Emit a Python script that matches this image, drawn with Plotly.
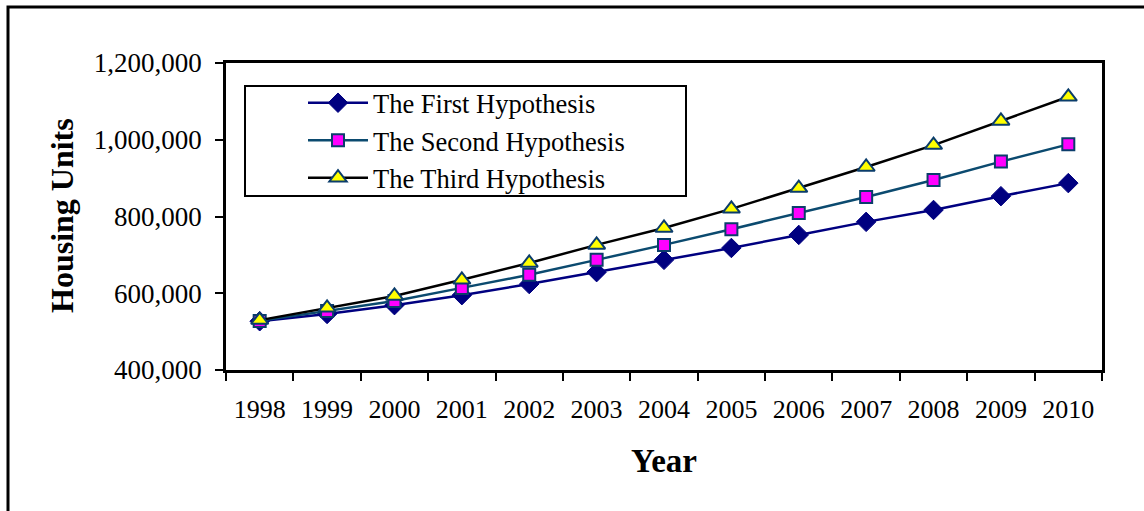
import plotly.graph_objects as go

years = ["1998", "1999", "2000", "2001", "2002", "2003", "2004",
         "2005", "2006", "2007", "2008", "2009", "2010"]
first_hyp = [527000, 546000, 569000, 595000, 624000, 655000, 687000,
             718000, 752000, 786000, 817000, 853000, 887000]
second_hyp = [528000, 554000, 580000, 614000, 648000, 687000, 726000,
              767000, 809000, 851000, 895000, 943000, 988000]
third_hyp = [530000, 562000, 593000, 635000, 679000, 726000, 770000,
             820000, 874000, 929000, 986000, 1049000, 1112000]
names = ["The First Hypothesis", "The Second Hypothesis", "The Third Hypothesis"]

W, H = 1144, 511
L, R, T, B = 226, 1102, 63, 370

fig = go.Figure()
fig.add_trace(go.Scatter(
    x=years, y=first_hyp, name=names[0], mode="lines+markers",
    line=dict(color="#000080", width=2.5),
    marker=dict(symbol="diamond", size=15, color="#000080",
                line=dict(color="#000080", width=1))))
fig.add_trace(go.Scatter(
    x=years, y=second_hyp, name=names[1], mode="lines+markers",
    line=dict(color="#0B4A6F", width=2.5),
    marker=dict(symbol="square", size=12, color="#FF00FF",
                line=dict(color="#0B3D6B", width=2))))
fig.add_trace(go.Scatter(
    x=years, y=third_hyp, name=names[2], mode="lines+markers",
    line=dict(color="#000000", width=2.5),
    marker=dict(symbol="triangle-up", size=15, color="#FFFF00",
                line=dict(color="#0B3D6B", width=2))))

def px(xp):
    return (xp - L) / (R - L)

def py(yp):
    return (B - yp) / (B - T)

fig.update_layout(
    width=W, height=H,
    margin=dict(l=L, r=W - R, t=T, b=H - B, pad=0),
    paper_bgcolor="white", plot_bgcolor="white",
    font=dict(family="Liberation Serif, Times New Roman, serif", size=27, color="black"),
    showlegend=True,
    legend=dict(
        x=px(303), y=py(79), xanchor="left", yanchor="top",
        bgcolor="rgba(0,0,0,0)", borderwidth=0,
        font=dict(family="Liberation Serif, serif", size=26.5, color="black"),
        itemwidth=60, tracegroupgap=0,
    ),
    xaxis=dict(
        type="category", range=[-0.5, 12.5],
        tickson="boundaries", ticks="outside", ticklen=8, tickwidth=2,
        tickcolor="black", showline=True, linecolor="black", linewidth=2.5,
        mirror=True, showgrid=False, zeroline=False,
        tickfont=dict(size=26), ticklabelstandoff=14,
    ),
    yaxis=dict(
        range=[400000, 1200000], dtick=200000, tickformat=",",
        ticks="outside", ticklen=8, tickwidth=2, tickcolor="black",
        showline=True, linecolor="black", linewidth=2.5, mirror=True,
        showgrid=False, zeroline=False, tickfont=dict(size=27),
        ticklabelstandoff=8,
    ),
    annotations=[
        dict(text="<b>Year</b>", x=px(664), y=py(461), xref="paper", yref="paper",
             xanchor="center", yanchor="middle", showarrow=False,
             font=dict(size=33, family="Liberation Serif, serif")),
        dict(text="<b>Housing Units</b>", x=px(62), y=py(216), xref="paper", yref="paper",
             xanchor="center", yanchor="middle", showarrow=False, textangle=-90,
             font=dict(size=32, family="Liberation Serif, serif")),
    ],
    shapes=[
        dict(type="rect", xref="paper", yref="paper",
             x0=px(8), x1=px(1160), y0=py(530), y1=py(7),
             line=dict(color="black", width=3), layer="below"),
        dict(type="rect", xref="paper", yref="paper",
             x0=px(245), x1=px(686), y0=py(196), y1=py(86),
             line=dict(color="black", width=2), fillcolor="white", layer="below"),
    ],
)

fig.write_html("out.html", config={"displayModeBar": False},
               post_script="document.body.style.margin='0';")
